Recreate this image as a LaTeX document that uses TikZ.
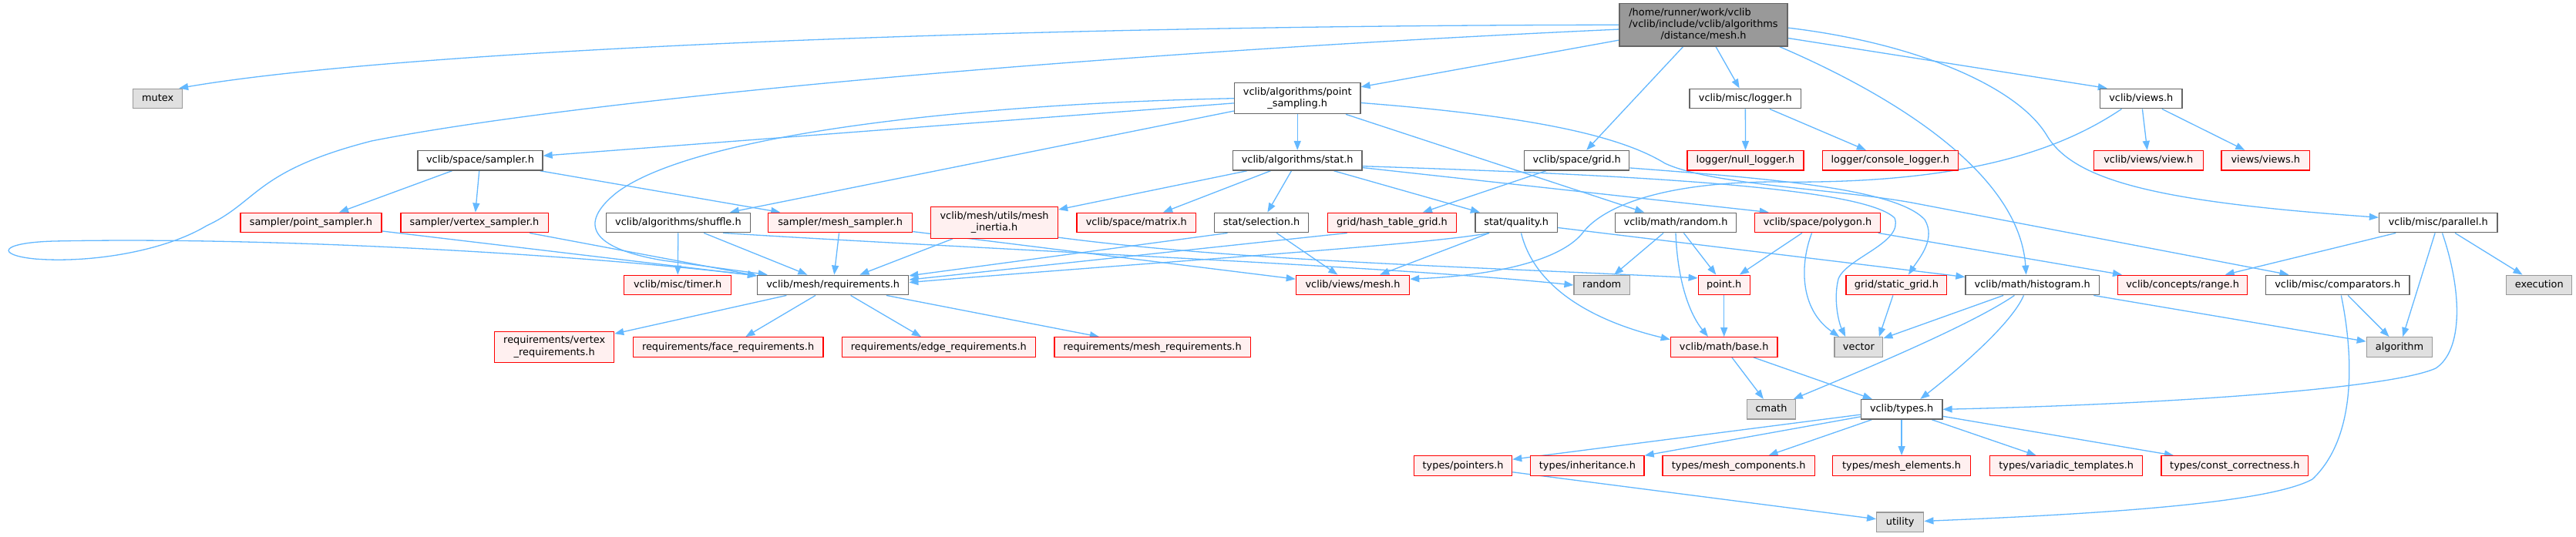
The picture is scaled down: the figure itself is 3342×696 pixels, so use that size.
\documentclass[tikz,border=0pt]{standalone}
\usepackage{fontspec}
\setmainfont{DejaVu Sans}
\usetikzlibrary{arrows.meta}
\definecolor{edgec}{HTML}{63B8FF}
\definecolor{gforty}{HTML}{666666}
\definecolor{gsixty}{HTML}{999999}
\definecolor{gfill}{HTML}{E0E0E0}
\definecolor{rfill}{HTML}{FFF0F0}
\newcommand{\nodefnt}{\fontsize{12.9}{15.3}\selectfont}
\pgfdeclarelayer{bg}
\pgfsetlayers{bg,main}
\tikzset{
  bx/.style={draw, line width=1.3pt, inner sep=0pt, font=\nodefnt, minimum height=25.6pt},
  sl/.style={text height=10pt, text depth=3pt},
  wn/.style={bx, sl, draw=gforty, fill=white},
  rn/.style={bx, sl, draw=red, fill=rfill},
  gn/.style={bx, sl, draw=gsixty, fill=gfill},
  wm/.style={bx, draw=gforty, fill=white},
  rm/.style={bx, draw=red, fill=rfill},
  rootn/.style={bx, draw=gforty, fill=gsixty},
  lnk/.style={draw=edgec, line width=1.3pt, -{Triangle[length=12pt,width=9pt]}}
}
\begin{document}
\begin{tikzpicture}[x=1pt, y=-1pt]
\useasboundingbox (0,0) rectangle (3342,696);
% row 0
\node[rootn, minimum width=218pt, minimum height=55.3pt] (root) at (2210,32.3) {\begin{tabular}{@{}l@{}}/home/runner/work/vclib\\/vclib/include/vclib/algorithms\\\multicolumn{1}{@{}c@{}}{/distance/mesh.h}\end{tabular}};
% row 1
\node[gn, minimum width=64.3pt] (mutex) at (204.6,128) {mutex};
\node[wm, minimum width=163.6pt, minimum height=40pt] (psamp) at (1683.2,127.7) {\begin{tabular}{@{}l@{}}vclib/algorithms/point\\\multicolumn{1}{@{}c@{}}{\_sampling.h}\end{tabular}};
\node[wn, minimum width=144.6pt] (logger) at (2264.3,128) {vclib/misc/logger.h};
\node[wn, minimum width=106.6pt] (views) at (2777.8,128) {vclib/views.h};
% row 2
\node[wn, minimum width=162pt] (sampler) at (623,208.3) {vclib/space/sampler.h};
\node[wn, minimum width=167.7pt] (stat) at (1683.2,208.3) {vclib/algorithms/stat.h};
\node[wn, minimum width=136pt] (grid) at (2045.7,208.3) {vclib/space/grid.h};
\node[rn, minimum width=150.8pt] (nulllog) at (2264.5,208.3) {logger/null\_logger.h};
\node[rn, minimum width=175.9pt] (conslog) at (2452.3,208.3) {logger/console\_logger.h};
\node[rn, minimum width=141.9pt] (view) at (2787.3,208.3) {vclib/views/view.h};
\node[rn, minimum width=114.8pt] (viewsviews) at (2939.3,208.3) {views/views.h};
% row 3
\node[rn, minimum width=182.9pt] (psampler) at (403.4,289) {sampler/point\_sampler.h};
\node[rn, minimum width=191.3pt] (vsampler) at (615.5,289) {sampler/vertex\_sampler.h};
\node[wn, minimum width=186.9pt] (shuffle) at (879.9,289) {vclib/algorithms/shuffle.h};
\node[rn, minimum width=187pt] (msampler) at (1090.1,289) {sampler/mesh\_sampler.h};
\node[rm, minimum width=164.8pt, minimum height=40.6pt] (inertia) at (1290.1,289) {\begin{tabular}{@{}l@{}}vclib/mesh/utils/mesh\\\multicolumn{1}{@{}c@{}}{\_inertia.h}\end{tabular}};
\node[rn, minimum width=154.8pt] (matrix) at (1474.3,289) {vclib/space/matrix.h};
\node[wn, minimum width=122pt] (selection) at (1636.6,289) {stat/selection.h};
\node[rn, minimum width=166.6pt] (hashgrid) at (1806,289) {grid/hash\_table\_grid.h};
\node[wn, minimum width=106.4pt] (quality) at (1967.2,289) {stat/quality.h};
\node[wn, minimum width=157pt] (randomh) at (2174,289) {vclib/math/random.h};
\node[rn, minimum width=162.9pt] (polygon) at (2358,289) {vclib/space/polygon.h};
\node[wn, minimum width=153.6pt] (parallel) at (3163.3,289) {vclib/misc/parallel.h};
% row 4
\node[rn, minimum width=138.9pt] (timer) at (879.2,370) {vclib/misc/timer.h};
\node[wn, minimum width=196pt] (req) at (1080.7,370) {vclib/mesh/requirements.h};
\node[rn, minimum width=147.3pt] (vmesh) at (1755,370) {vclib/views/mesh.h};
\node[gn, minimum width=72.3pt] (random) at (2078.2,370) {random};
\node[rn, minimum width=67pt] (point) at (2236.7,370) {point.h};
\node[rn, minimum width=130.8pt] (staticgrid) at (2460.4,370) {grid/static\_grid.h};
\node[wn, minimum width=173.4pt] (histogram) at (2636.7,370) {vclib/math/histogram.h};
\node[rn, minimum width=168pt] (range) at (2831.6,370) {vclib/concepts/range.h};
\node[wn, minimum width=186.8pt] (comparators) at (3032.7,370) {vclib/misc/comparators.h};
\node[gn, minimum width=84.8pt] (execution) at (3294.2,370) {execution};
% row 5
\node[rm, minimum width=154.8pt, minimum height=40.4pt] (vertreq) at (719.2,450.5) {\begin{tabular}{@{}l@{}}requirements/vertex\\\multicolumn{1}{@{}c@{}}{\_requirements.h}\end{tabular}};
\node[rn, minimum width=246.7pt] (facereq) at (944.6,450.5) {requirements/face\_requirements.h};
\node[rn, minimum width=250.7pt] (edgereq) at (1217.9,450.5) {requirements/edge\_requirements.h};
\node[rn, minimum width=254.4pt] (meshreq) at (1495.1,450.5) {requirements/mesh\_requirements.h};
\node[rn, minimum width=138.7pt] (base) at (2236.7,450.5) {vclib/math/base.h};
\node[gn, minimum width=62.7pt] (vector) at (2411.4,450.5) {vector};
\node[gn, minimum width=85.4pt] (algorithm) at (3113,450.5) {algorithm};
% row 6
\node[gn, minimum width=63.2pt] (cmath) at (2298,531.3) {cmath};
\node[wn, minimum width=105.6pt] (types) at (2467.1,531.3) {vclib/types.h};
% row 7
\node[rn, minimum width=127pt] (pointers) at (1898.1,604.5) {types/pointers.h};
\node[rn, minimum width=147.3pt] (inheritance) at (2059.4,604.5) {types/inheritance.h};
\node[rn, minimum width=197.3pt] (meshcomp) at (2255.7,604.5) {types/mesh\_components.h};
\node[rn, minimum width=178.6pt] (meshelem) at (2467.1,604.5) {types/mesh\_elements.h};
\node[rn, minimum width=198.2pt] (variadic) at (2680.7,604.5) {types/variadic\_templates.h};
\node[rn, minimum width=190.6pt] (constcorr) at (2899.3,604.5) {types/const\_correctness.h};
% row 8
\node[gn, minimum width=61.1pt] (utility) at (2465.2,677.7) {utility};

\begin{pgfonlayer}{bg}
\fill[white] (0,0) rectangle (3342,696);
% root
\draw[lnk] (root.west) .. controls (1300,33) and (520,65) .. (mutex.26);
\draw[lnk] (root) -- (psamp);
\draw[lnk] (root.183) .. controls (1400,70) and (750,130) .. (482,183) .. controls (330,222) and (335,262) .. (268,293) .. controls (215,325) and (120,342) .. (45,336) .. controls (-5,331) and (-2,315) .. (70,313) .. controls (350,307) and (750,330) .. (req.173);
\draw[lnk] (root) -- (grid);
\draw[lnk] (root) -- (logger);
\draw[lnk] (root.-16) .. controls (2470,130) and (2620,230) .. (histogram.121);
\draw[lnk] (root) -- (views.163);
\draw[lnk] (root.-2) .. controls (2480,55) and (2615,110) .. (2655,175) .. controls (2690,235) and (2800,262) .. (parallel.175);
% point sampling
\draw[lnk] (psamp) -- (sampler);
\draw[lnk] (psamp.west) .. controls (1250,135) and (900,175) .. (800,250) .. controls (750,290) and (765,322) .. (860,338) -- (req.171);
\draw[lnk] (psamp) -- (shuffle);
\draw[lnk] (psamp) -- (stat);
\draw[lnk] (psamp) -- (randomh);
\draw[lnk] (psamp.-4) .. controls (1980,150) and (2100,175) .. (2160,212) .. controls (2220,240) and (2380,245) .. (2480,263) -- (comparators.168);
% stat
\draw[lnk] (stat) -- (selection);
\draw[lnk] (stat) -- (quality);
\draw[lnk] (stat) -- (inertia);
\draw[lnk] (stat) -- (matrix);
\draw[lnk] (stat) -- (polygon.168);
\draw[lnk] (stat.-5) .. controls (2150,228) and (2420,245) .. (2458,283) .. controls (2470,315) and (2395,335) .. (2385,362) .. controls (2378,390) and (2386,420) .. (vector.142);
% grid
\draw[lnk] (grid) -- (hashgrid);
\draw[lnk] (grid.-8) .. controls (2300,232) and (2460,245) .. (2497,285) .. controls (2512,310) and (2490,335) .. (staticgrid.41);
% quality
\draw[lnk] (quality.201) .. controls (1850,318) and (1500,340) .. (req.2);
\draw[lnk] (quality) -- (vmesh);
\draw[lnk] (quality.-65) .. controls (1990,370) and (2060,415) .. (base.172);
\draw[lnk] (quality) -- (histogram);
% hash grid, selection
\draw[lnk] (hashgrid.193) -- (req.4);
\draw[lnk] (selection.197) -- (req.7);
\draw[lnk] (selection) -- (vmesh);
% random.h
\draw[lnk] (randomh) -- (random);
\draw[lnk] (randomh.south) .. controls (2176,360) and (2190,405) .. (base.147);
\draw[lnk] (randomh) -- (point);
% polygon
\draw[lnk] (polygon) -- (point);
\draw[lnk] (polygon.-119) .. controls (2336,340) and (2333,400) .. (vector.152);
\draw[lnk] (polygon) -- (range);
% point, base, static grid
\draw[lnk] (point) -- (base);
\draw[lnk] (base) -- (cmath);
\draw[lnk] (base) -- (types);
\draw[lnk] (staticgrid) -- (vector.27);
% histogram
\draw[lnk] (histogram) -- (vector);
\draw[lnk] (histogram.-150) .. controls (2560,420) and (2430,475) .. (cmath.25);
\draw[lnk] (histogram.-130) .. controls (2610,420) and (2540,480) .. (types.29);
\draw[lnk] (histogram) -- (algorithm);
% comparators
\draw[lnk] (comparators) -- (algorithm);
\draw[lnk] (comparators.-71) .. controls (3055,470) and (3055,570) .. (3000,622) .. controls (2940,655) and (2700,668) .. (utility);
% parallel
\draw[lnk] (parallel) -- (range);
\draw[lnk] (parallel) -- (algorithm);
\draw[lnk] (parallel.-69) .. controls (3195,380) and (3195,455) .. (3160,478) .. controls (3100,505) and (2800,525) .. (types.east);
\draw[lnk] (parallel) -- (execution);
% views
\draw[lnk] (views) -- (view);
\draw[lnk] (views) -- (viewsviews);
\draw[lnk] (views.208) .. controls (2680,190) and (2560,240) .. (2300,236) .. controls (2150,237) and (2080,270) .. (2055,300) .. controls (2030,335) and (1950,357) .. (vmesh.6);
% logger
\draw[lnk] (logger) -- (nulllog);
\draw[lnk] (logger) -- (conslog);
% sampler
\draw[lnk] (sampler) -- (psampler);
\draw[lnk] (sampler) -- (vsampler);
\draw[lnk] (sampler) -- (msampler);
\draw[lnk] (psampler) -- (req.173);
\draw[lnk] (vsampler) -- (req.173);
\draw[lnk] (msampler) -- (req);
\draw[lnk] (msampler) -- (vmesh.174);
% inertia
\draw[lnk] (inertia) -- (req);
\draw[lnk] (inertia.-13) .. controls (1600,338) and (1900,346) .. (point.165);
% shuffle
\draw[lnk] (shuffle) -- (timer);
\draw[lnk] (shuffle) -- (req);
\draw[lnk] (shuffle.-13) .. controls (1300,325) and (1800,345) .. (random.west);
% requirements
\draw[lnk] (req) -- (vertreq);
\draw[lnk] (req) -- (facereq);
\draw[lnk] (req) -- (edgereq);
\draw[lnk] (req) -- (meshreq);
% types
\draw[lnk] (types) -- (pointers);
\draw[lnk] (types) -- (inheritance);
\draw[lnk] (types) -- (meshcomp);
\draw[lnk] (types) -- (meshelem);
\draw[lnk] (types) -- (variadic);
\draw[lnk] (types) -- (constcorr);
\draw[lnk] (pointers) -- (utility);
\end{pgfonlayer}
\end{tikzpicture}
\end{document}
